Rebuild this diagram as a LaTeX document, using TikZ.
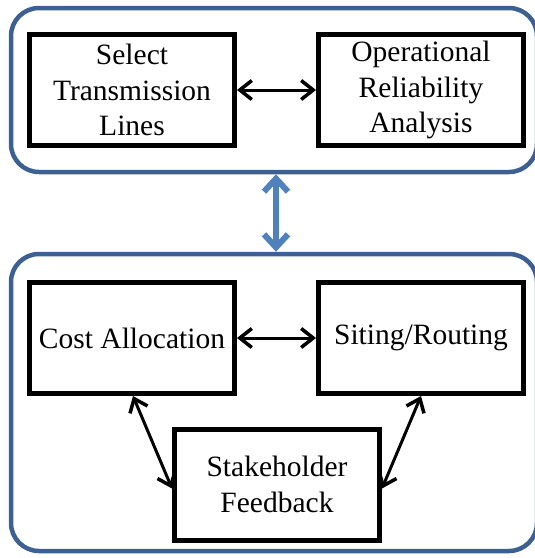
\documentclass[tikz,border=0pt]{standalone}
\usepackage{fontspec}
\setmainfont{Liberation Serif}
\usetikzlibrary{arrows.meta}
\definecolor{contblue}{RGB}{59,96,145}
\definecolor{arrblue}{RGB}{79,129,189}
\tikzset{
  stepbox/.style={draw=black, line width=5pt, fill=white, minimum width=205pt, minimum height=111pt, inner sep=0pt, align=center, font=\fontsize{29.5}{35.5}\selectfont},
  container/.style={draw=contblue, line width=4.5pt, rounded corners=28pt, inner sep=0pt},
  blackarrow/.style={line width=3pt, {Straight Barb[length=12pt,width=19pt,line width=3.5pt]}-{Straight Barb[length=12pt,width=19pt,line width=3.5pt]}},
  bluearrow/.style={draw=arrblue, line width=6pt, {Straight Barb[length=13pt,width=24pt,line width=6pt]}-{Straight Barb[length=13pt,width=24pt,line width=6pt]}}
}
\begin{document}
\begin{tikzpicture}[x=1pt,y=-1pt]
\useasboundingbox (0,0) rectangle (535,558);
\node[container, minimum width=526pt, minimum height=164pt] (top) at (274,90) {};
\node[container, minimum width=526pt, minimum height=297pt] (bot) at (274,402.5) {};
\node[stepbox] (sel) at (132,90) {Select\\Transmission\\Lines};
\node[stepbox] (ora) at (421,90) {Operational\\Reliability\\Analysis};
\node[stepbox] (cost) at (132,338) {Cost Allocation};
\node[stepbox] (site) at (421,338) {Siting/Routing};
\node[stepbox] (stake) at (277,484.5) {Stakeholder\\Feedback};
\draw[blackarrow] (sel) -- (ora);
\draw[blackarrow] (cost) -- (site);
\draw[blackarrow] ([xshift=1pt]cost.south) -- ([yshift=-4pt]stake.west);
\draw[blackarrow] (site.south) -- ([yshift=-4pt]stake.east);
\draw[bluearrow] ([xshift=2pt]top.south) -- ([xshift=2pt]bot.north);
\end{tikzpicture}
\end{document}
